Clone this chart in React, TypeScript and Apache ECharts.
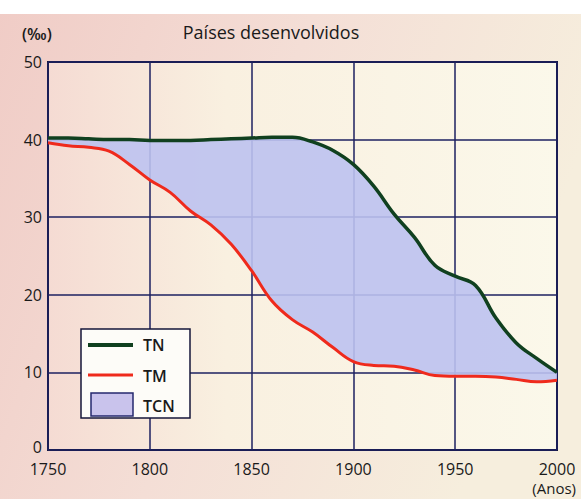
import React, { useEffect, useRef } from "react";
import * as echarts from "echarts";

const years = [1750, 1760, 1770, 1780, 1790, 1800, 1810, 1820, 1830, 1840, 1850, 1860, 1870, 1880, 1890, 1900, 1910, 1920, 1930, 1940, 1950, 1960, 1970, 1980, 1990, 2000];
const tn = [40.2, 40.2, 40.1, 40.0, 40.0, 39.9, 39.9, 39.9, 40.0, 40.1, 40.2, 40.3, 40.3, 39.7, 38.6, 36.8, 34.0, 30.4, 27.4, 23.8, 22.4, 21.2, 17.0, 13.8, 11.8, 10.0];
const tm = [39.6, 39.2, 39.0, 38.5, 36.8, 34.8, 33.2, 30.8, 29.0, 26.5, 23.1, 19.2, 16.8, 15.2, 13.2, 11.4, 10.9, 10.8, 10.3, 9.6, 9.5, 9.5, 9.4, 9.1, 8.8, 9.0];
const title = "Países desenvolvidos";
const yUnit = "(‰)";
const xUnit = "(Anos)";
const legendNames = ["TN", "TM", "TCN"];

const FONT = "'Open Sans', sans-serif";

export default function App() {
  const ref = useRef<HTMLDivElement>(null);
  useEffect(() => {
    document.body.style.margin = "0";
    const chart = echarts.init(ref.current!, null, { renderer: "svg" });
    const cats = years.map(String);
    const diff = years.map((_, i) => +(tn[i] - tm[i]).toFixed(2));
    const showEvery5 = (i: number) => i % 5 === 0;
    chart.setOption({
      animation: false,
      backgroundColor: {
        type: "linear", x: 0, y: 0, x2: 1, y2: 0.3,
        colorStops: [
          { offset: 0, color: "#f0ccc6" },
          { offset: 0.5, color: "#f4ded6" },
          { offset: 1, color: "#f6eedd" },
        ],
      },
      textStyle: { fontFamily: FONT },
      grid: {
        left: 48, right: 24, top: 62, bottom: 49,
        show: true,
        backgroundColor: {
          type: "linear", x: 0, y: 0, x2: 1, y2: 0,
          colorStops: [
            { offset: 0, color: "#f5dbd3" },
            { offset: 0.35, color: "#f9f0e0" },
            { offset: 1, color: "#fbf8ea" },
          ],
        },
        borderColor: "#14163a",
        borderWidth: 2,
      },
      xAxis: {
        type: "category", data: cats, boundaryGap: false,
        axisLine: { show: false }, axisTick: { show: false },
        splitLine: { show: true, interval: (i: number) => showEvery5(i), lineStyle: { color: "#1c2160", width: 1.5 } },
        axisLabel: { interval: (i: number) => showEvery5(i), color: "#1a1a1a", fontSize: 16, lineHeight: 16, fontFamily: FONT, margin: 11 },
      },
      yAxis: {
        type: "value", min: 0, max: 50, interval: 10,
        axisLine: { show: false }, axisTick: { show: false },
        splitLine: { show: true, lineStyle: { color: "#1c2160", width: 1.5 } },
        axisLabel: {
          color: "#1a1a1a", fontSize: 16, lineHeight: 16, fontFamily: FONT, margin: 6,
          formatter: (v: number) => (v === 0 ? "{z|0}" : String(v)),
          rich: { z: { fontSize: 16, lineHeight: 16, fontFamily: FONT, color: "#1a1a1a", padding: [0, 0, 6, 0] } },
        },
      },
      graphic: [
        { type: "rect", left: 0, top: 0, shape: { width: 581, height: 14 }, style: { fill: "#ffffff" }, z: -1 },
        { type: "text", x: 271, y: 32, style: { text: title, fontSize: 18, fontFamily: FONT, fill: "#1a1a1a", align: "center", verticalAlign: "middle" } },
        { type: "text", x: 22, y: 34, style: { text: yUnit, fontSize: 16, fontFamily: FONT, fontWeight: 600, fill: "#1a1a1a", align: "left", verticalAlign: "middle" } },
        { type: "text", x: 576, y: 488, style: { text: xUnit, fontSize: 15, lineHeight: 16, fontFamily: FONT, fill: "#1a1a1a", align: "right", verticalAlign: "middle" } },
        { type: "rect", shape: { x: 81, y: 329, width: 109, height: 89 }, style: { fill: "#fdfcf8", stroke: "#15163a", lineWidth: 1.5 }, z: 100 },
        { type: "line", shape: { x1: 88, y1: 345, x2: 133, y2: 345 }, style: { stroke: "#10401f", lineWidth: 4 }, z: 101 },
        { type: "text", x: 143, y: 345, style: { text: legendNames[0], fontSize: 16, fontWeight: 600, fontFamily: FONT, fill: "#1a1a1a", verticalAlign: "middle" }, z: 101 },
        { type: "line", shape: { x1: 88, y1: 375, x2: 133, y2: 375 }, style: { stroke: "#ef2a1c", lineWidth: 3 }, z: 101 },
        { type: "text", x: 143, y: 376, style: { text: legendNames[1], fontSize: 16, fontWeight: 600, fontFamily: FONT, fill: "#1a1a1a", verticalAlign: "middle" }, z: 101 },
        { type: "rect", shape: { x: 91, y: 393, width: 42, height: 23 }, style: { fill: "#c9c3ec", stroke: "#25286e", lineWidth: 1.5 }, z: 101 },
        { type: "text", x: 143, y: 406, style: { text: legendNames[2], fontSize: 16, fontWeight: 600, fontFamily: FONT, fill: "#1a1a1a", verticalAlign: "middle" }, z: 101 },
      ],
      series: [
        { name: "base", type: "line", data: tm, stack: "band", smooth: 0.4, symbol: "none", lineStyle: { opacity: 0 }, silent: true },
        { name: legendNames[2], type: "line", data: diff, stack: "band", smooth: 0.4, symbol: "none", lineStyle: { opacity: 0 }, areaStyle: { color: "#bcc2f0", opacity: 0.9 }, silent: true },
        { name: legendNames[0], type: "line", data: tn, smooth: 0.4, symbol: "none", lineStyle: { color: "#10401f", width: 3.5 }, z: 5 },
        { name: legendNames[1], type: "line", data: tm, smooth: 0.4, symbol: "none", lineStyle: { color: "#ef2a1c", width: 3 }, z: 6 },
      ],
    });
    return () => chart.dispose();
  }, []);
  return <div ref={ref} style={{ width: 581, height: 499 }} />;
}
